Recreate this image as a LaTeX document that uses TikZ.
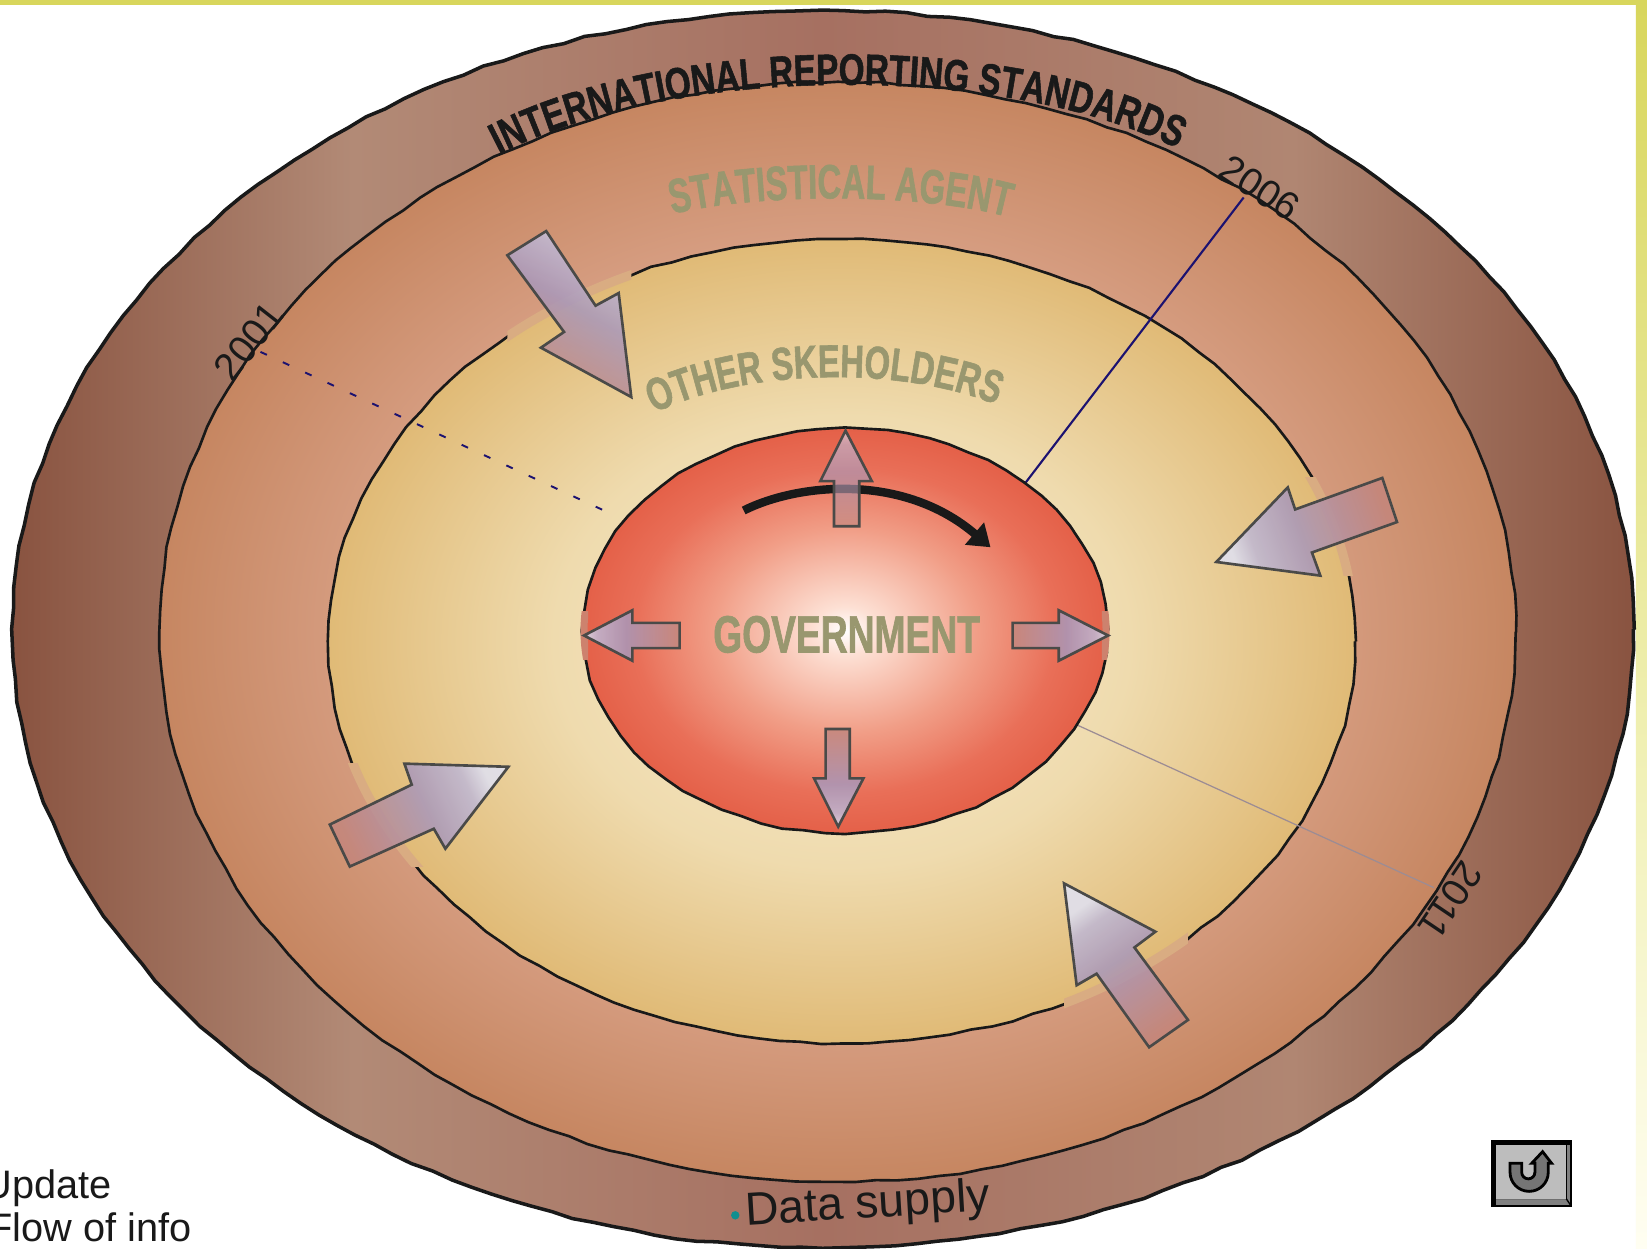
\documentclass[tikz,border=0pt]{standalone}
\usepackage{fontspec}
\setmainfont{Liberation Sans}
\newfontfamily\ringfont[FakeStretch=.757,FakeBold=1.2]{Liberation Sans Bold}
\newfontfamily\agentfont[FakeStretch=.684,FakeBold=1.2]{Liberation Sans Bold}
\newfontfamily\govfont[FakeStretch=.71,FakeBold=1.2]{Liberation Sans Bold}
\usetikzlibrary{arrows.meta,decorations.pathmorphing,decorations.text}
\definecolor{sagecol}{HTML}{99976F}
\definecolor{tagline}{HTML}{1C1270}
\definecolor{yearline}{HTML}{9C8C94}
\definecolor{arrowedge}{HTML}{4A4A48}
\definecolor{barcol}{HTML}{D8D65C}
\definecolor{bandcol}{HTML}{D9AC82}
\definecolor{coreband}{HTML}{CD826E}
\definecolor{dotcol}{HTML}{0F8F8F}
\pgfdeclarehorizontalshading{ringfour}{100bp}{color(0bp)=(rgb,255:red,137;green,83;blue,64);color(25bp)=(rgb,255:red,137;green,83;blue,64);color(35.5bp)=(rgb,255:red,178;green,138;blue,118);color(50bp)=(rgb,255:red,166;green,112;blue,97);color(64.5bp)=(rgb,255:red,176;green,134;blue,114);color(75bp)=(rgb,255:red,137;green,83;blue,64);color(100bp)=(rgb,255:red,137;green,83;blue,64)}
\pgfdeclareradialshading{ringthree}{\pgfpoint{0bp}{0bp}}{color(0bp)=(rgb,255:red,224;green,178;blue,155);color(17bp)=(rgb,255:red,216;green,160;blue,133);color(25bp)=(rgb,255:red,198;green,134;blue,97);color(50bp)=(rgb,255:red,198;green,134;blue,97)}
\pgfdeclareradialshading{ringtwo}{\pgfpoint{0bp}{0bp}}{color(0bp)=(rgb,255:red,247;green,236;blue,208);color(14bp)=(rgb,255:red,239;green,219;blue,174);color(25bp)=(rgb,255:red,224;green,186;blue,118);color(50bp)=(rgb,255:red,224;green,186;blue,118)}
\pgfdeclareradialshading{ringone}{\pgfpoint{0bp}{0bp}}{color(0bp)=(rgb,255:red,255;green,255;blue,255);color(3bp)=(rgb,255:red,253;green,224;blue,212);color(12.5bp)=(rgb,255:red,241;green,158;blue,135);color(20bp)=(rgb,255:red,233;green,111;blue,88);color(25bp)=(rgb,255:red,228;green,96;blue,72);color(50bp)=(rgb,255:red,228;green,96;blue,72)}
\pgfdeclarehorizontalshading{flowtint}{100bp}{color(0bp)=(rgb,255:red,223;green,225;blue,242);color(25bp)=(rgb,255:red,223;green,225;blue,242);color(32bp)=(rgb,255:red,191;green,184;blue,212);color(47bp)=(rgb,255:red,169;green,152;blue,186);color(75bp)=(rgb,255:red,196;green,134;blue,124);color(100bp)=(rgb,255:red,196;green,134;blue,124)}
\pgfdeclareverticalshading{sidebar}{100bp}{color(0bp)=(rgb,255:red,255;green,254;blue,242);color(25bp)=(rgb,255:red,255;green,254;blue,242);color(45bp)=(rgb,255:red,240;green,240;blue,180);color(75bp)=(rgb,255:red,216;green,214;blue,92);color(100bp)=(rgb,255:red,216;green,214;blue,92)}
\begin{document}
\begin{tikzpicture}[x=.010504cm,y=-.010504cm,
    rough/.style={decorate,decoration={random steps,segment length=6pt,amplitude=.3pt}},
    ringedge/.style={draw=black!90,line width=.75pt,rough},
    flow/.style={draw=arrowedge,line width=.75pt,shading=flowtint,fill opacity=.86,line join=miter},
    year/.style={font=\fontsize{11pt}{13pt}\selectfont,text=black!90,inner sep=0pt},
    legend/.style={font=\fontsize{11.3pt}{13pt}\selectfont,text=black!90,inner sep=0pt,anchor=base east}]
    \useasboundingbox (0,0) rectangle (1568,1189);
    \pgfmathsetseed{7}
    \fill[white] (0,0) rectangle (1568,1189);
    \shade[shading=sidebar] (1557.5,0) rectangle (1568,1189);
    \fill[barcol] (0,0) rectangle (1568,4.7);

    \shade[shading=ringfour,ringedge,line width=1pt] (783.5,599) ellipse (771.5 and 589);
    \shade[shading=ringthree,ringedge] (797.5,601.5) ellipse (645.5 and 523.5);
    \shade[shading=ringtwo,ringedge] (801.5,610.5) ellipse (488.5 and 382.5);

    \coordinate (d1) at (248,335);
    \coordinate (d2) at (588,492);
    \coordinate (n1) at (1184,188);
    \coordinate (n2) at (976,460);
    \coordinate (g1) at (1025,690);
    \coordinate (g2) at (1365,845);
    \draw[tagline,line width=.55pt,dash pattern=on 2pt off 5pt] (d1)--(d2);
    \draw[tagline,line width=.6pt] (n1)--(n2);
    \draw[yearline,line width=.35pt] (g1)--(g2);

    \shade[shading=ringone,ringedge] (804.5,600.5) ellipse (248.5 and 192.5);

    \draw[line width=2.4pt,black!90,-{Triangle[length=6pt,width=8pt]}] (708,486) .. controls (760,460) and (860,450) .. (943,521);

    \foreach \xa/\ya/\xb/\yb in {483/220/601/378,1158/455/1330/548,314/727/484/825,1013/841/1131/997}{
        \begin{scope}
            \clip (\xa,\ya) rectangle (\xb,\yb);
            \draw[line width=2.6pt,bandcol] (801.5,610.5) ellipse (488.5 and 382.5);
        \end{scope}
    }
    \foreach \xa/\xb in {552/560,1049/1058}{
        \begin{scope}
            \clip (\xa,582) rectangle (\xb,628);
            \draw[line width=2pt,coreband] (804.5,600.5) ellipse (248.5 and 192.5);
        \end{scope}
    }

    \shadedraw[flow,shading angle=-120] (601,378)--(589,279)--(567,291)--(520,220)--(483,243)--(537,316)--(515,331)--cycle;
    \shadedraw[flow,shading angle=20] (1158,535)--(1226,464)--(1233,485)--(1316,455)--(1330,497)--(1249,526)--(1257,548)--cycle;
    \shadedraw[flow,shading angle=-155] (484,730)--(385,727)--(392,747)--(314,785)--(333,825)--(413,789)--(424,808)--cycle;
    \shadedraw[flow,shading angle=-55] (1013,841)--(1100,887)--(1080,902)--(1131,971)--(1094,997)--(1044,927)--(1025,938)--cycle;
    \shadedraw[flow,fill opacity=.65,shading angle=-90] (805,410)--(830,458)--(818,458)--(818,501)--(794,501)--(794,458)--(781,458)--cycle;
    \shadedraw[flow,shading angle=90] (798,787)--(822,741)--(809,741)--(809,694)--(786,694)--(786,741)--(775,741)--cycle;
    \shadedraw[flow] (556,605)--(602,581)--(602,593)--(647,593)--(647,617)--(602,617)--(602,629)--cycle;
    \shadedraw[flow,shading angle=180] (1055,605)--(1008,581)--(1008,593)--(964,593)--(964,617)--(1008,617)--(1008,629)--cycle;

    \path[decorate,decoration={text along path,text align=center,text={|\ringfont\fontsize{12.5pt}{14pt}\selectfont\color{black!90}|INTERNATIONAL REPORTING STANDARDS}}] (466,152) .. controls (630,60) and (960,56) .. (1130,146);
    \path[decorate,decoration={text along path,text align=center,text={|\agentfont\fontsize{13.7pt}{15pt}\selectfont\color{sagecol}|STATISTICAL AGENT}}] (635,205) .. controls (720,183) and (880,183) .. (965,208);
    \path[decorate,decoration={text along path,text align=center,text={|\govfont\fontsize{13.1pt}{15pt}\selectfont\color{sagecol}|OTHER SKEHOLDERS}}] (612,399) .. controls (700,350) and (860,345) .. (960,390);
    \node[text=sagecol,inner sep=0pt,font=\govfont\fontsize{14.9pt}{16pt}\selectfont] (govt) at (806,604) {GOVERNMENT};

    \node[year,rotate=52] (y2001) at (237,325) {2001};
    \node[year,rotate=-33] (y2006) at (1199,179) {2006};
    \node[year,rotate=-124] (y2011) at (1381,857) {2011};

    \node[legend] (update) at (107,1141) {Update};
    \node[legend] (flowinfo) at (183,1182) {Flow of info};
    \node[circle,fill=dotcol,inner sep=0pt,minimum size=2.4pt] (datadot) at (700,1157) {};
    \node[rotate=3.5,inner sep=0pt,text=black!90,font=\fontsize{13.2pt}{15pt}\selectfont] (datasupply) at (826,1148) {Data supply};

    \fill[black] (1419.5,1085) rectangle (1496.6,1149);
    \fill[black!50] (1424,1090) rectangle (1495,1147);
    \draw[black,line width=.4pt] (1491,1141)--(1495,1147) (1424,1141)--(1491,1141) (1491,1090)--(1491,1141);
    \fill[black!26] (1424,1090) rectangle (1491,1141);
    \draw[black,line width=.8pt,fill=black!54] (1437.6,1107.5)--(1448.7,1107.5)--(1448.7,1116) arc (180:0:6.3)--(1461.3,1107.5)--(1458.2,1107.5)--(1468.6,1096.4)--(1477.2,1107.5)--(1474,1107.5)--(1474,1116) arc (0:180:18.2)--cycle;
\end{tikzpicture}
\end{document}
